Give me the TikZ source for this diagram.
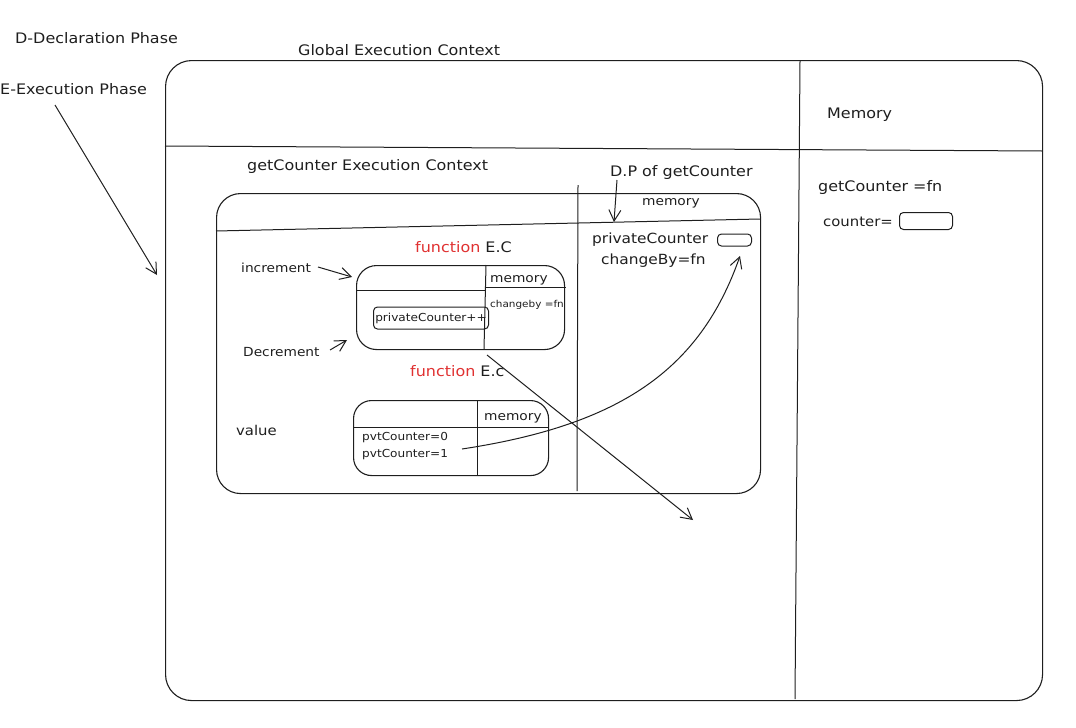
\documentclass[tikz,border=0pt]{standalone}
\usepackage{fontspec}
\setmainfont[FakeStretch=1.1]{DejaVu Sans}
\usetikzlibrary{positioning,arrows.meta,calc}
\definecolor{inkgray}{HTML}{1E1E1E}
\definecolor{fnred}{HTML}{E03131}
\tikzset{
    ecbox/.style={draw=inkgray,line width=1.1pt,rounded corners=#1,inner sep=0pt,anchor=north west},
    ecbox/.default=20pt,
    divider/.style={draw=inkgray,line width=1pt},
    lbl/.style={font=\fontsize{14.5}{16}\selectfont,text=inkgray,inner sep=0pt,anchor=west},
    mid/.style={lbl,font=\fontsize{12.5}{15}\selectfont},
    small/.style={lbl,font=\fontsize{11}{13}\selectfont},
    slot/.style={draw=inkgray,line width=1pt,rounded corners=4pt,inner sep=0pt,anchor=west},
    pointer/.style={draw=inkgray,line width=1pt,-{Straight Barb[length=11pt,width=12pt]}},
}

\begin{document}
\begin{tikzpicture}[x=1pt,y=-1pt]
    \useasboundingbox (0,0) rectangle (1076,728);

    \node[lbl] (dphase) at (15,38) {D-Declaration Phase};
    \node[lbl] (ephase) at (0,89) {E-Execution Phase};
    \node[lbl] (gectitle) at (298,50) {Global Execution Context};

    \node[ecbox=26pt,minimum width=877pt,minimum height=640pt] (gec) at (165,60) {};
    \draw[divider] (165,146) -- (1042,151);
    \draw[divider] (800,61) -- (795,699);
    \node[lbl] (gmem) at (827,115) {Memory};
    \node[lbl] (gfn) at (818,187) {getCounter =fn};
    \node[lbl,font=\fontsize{13.5}{15}\selectfont] (gctr) at (823,222) {counter=};
    \node[slot,minimum width=53pt,minimum height=17pt] (gslot) at (899,221) {};

    \node[lbl] (gctitle) at (247,166) {getCounter Execution Context};
    \node[ecbox=24pt,minimum width=544pt,minimum height=300pt] (gcec) at (216,193) {};
    \draw[divider] (216,231) -- (760,219);
    \draw[divider] (578,185) -- (577,491);
    \node[lbl] (dptitle) at (610,172) {D.P of getCounter};
    \node[mid] (dpmem) at (642,203) {memory};
    \node[lbl,font=\fontsize{14}{16}\selectfont] (pcname) at (592,240) {privateCounter};
    \node[slot,minimum width=34pt,minimum height=12pt] (pcslot) at (717,240) {};
    \node[lbl,font=\fontsize{14}{16}\selectfont] (cbname) at (601,261) {changeBy=fn};

    \node[lbl] (fnonetitle) at (415,247) {\textcolor{fnred}{function} E.C};
    \node[ecbox=20pt,minimum width=208pt,minimum height=84pt] (fnone) at (356,265) {};
    \draw[divider] (356,290) -- (486,290);
    \draw[divider] (486,287) -- (566,287);
    \draw[divider] (486,265) -- (484,349);
    \node[mid] (fnonemem) at (490,280) {memory};
    \node[small,font=\fontsize{9.5}{12}\selectfont] (fnonecb) at (490,305) {changeby =fn};
    \node[slot,small,minimum width=115pt,minimum height=22pt] (incbody) at (373,318) {privateCounter++};
    \node[mid] (inc) at (241,268) {increment};
    \node[mid] (dec) at (243,352) {Decrement};

    \node[lbl] (fntwotitle) at (410,371) {\textcolor{fnred}{function} E.c};
    \node[ecbox=18pt,minimum width=195pt,minimum height=75pt] (fntwo) at (353,400) {};
    \draw[divider] (353,427) -- (548,427);
    \draw[divider] (477,400) -- (477,475);
    \node[mid] (fntwomem) at (484,418) {memory};
    \node[small] (pvtzero) at (362,438) {pvtCounter=0};
    \node[small] (pvtone) at (362,455) {pvtCounter=1};
    \node[lbl,font=\fontsize{13.5}{15}\selectfont] (val) at (236,430) {value};

    \coordinate (etail) at (55,105);
    \coordinate (gecedge) at (157,275);
    \coordinate (inctail) at (318,267);
    \coordinate (inchead) at (352,277);
    \coordinate (dectail) at (330,350);
    \coordinate (dechead) at (347,340);
    \coordinate (dptail) at (617,180);
    \coordinate (dphead) at (614,222);
    \coordinate (pvttail) at (462,449);
    \coordinate (pchead) at (740,256);
    \coordinate (fnonetail) at (487,355);
    \coordinate (outhead) at (693,520);

    \draw[pointer] (etail) -- (gecedge);
    \draw[pointer] (inctail) -- (inchead);
    \draw[pointer] (dectail) -- (dechead);
    \draw[pointer] (dptail) -- (dphead);
    \draw[pointer] (pvttail) .. controls (620,425) and (700,370) .. (pchead);
    \draw[pointer] (fnonetail) -- (outhead);
\end{tikzpicture}
\end{document}
